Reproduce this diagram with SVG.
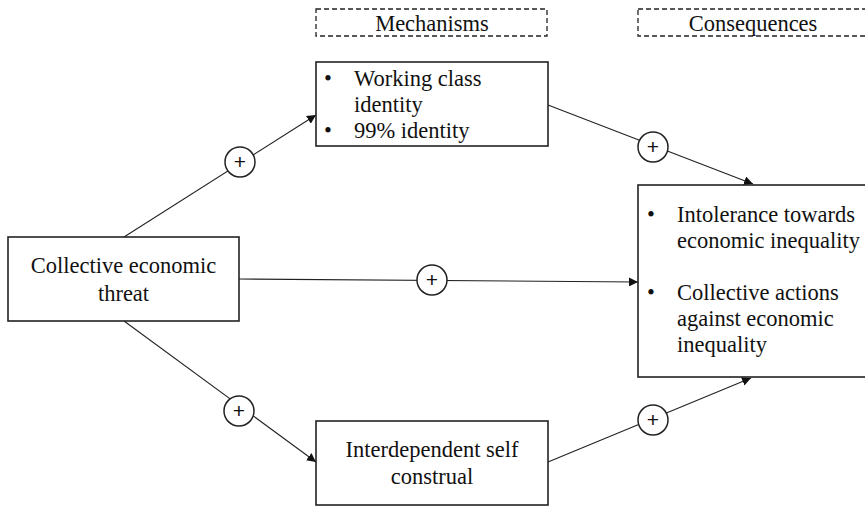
<svg xmlns="http://www.w3.org/2000/svg" width="865" height="506" viewBox="0 0 865 506">
<style>
.box{fill:#fff;stroke:#222;stroke-width:1.6}
.dash{fill:none;stroke:#222;stroke-width:1.3;stroke-dasharray:5 3}
.t{font-family:"Liberation Serif","Times New Roman",serif;font-size:22.5px;fill:#111}
.c{text-anchor:middle}
.ln{stroke:#222;stroke-width:1.1;fill:none}
.sign{fill:#fff;stroke:#222;stroke-width:1.5}
.p{font-family:"Liberation Sans",Arial,sans-serif;font-size:21px;fill:#111;text-anchor:middle}
</style>
<defs>
<marker id="ah" viewBox="0 0 10 10" refX="10" refY="5" markerWidth="9" markerHeight="9" markerUnits="userSpaceOnUse" orient="auto">
<path d="M0,0 L10,5 L0,10 z" fill="#111"/>
</marker>
</defs>
<rect width="865" height="506" fill="#fff"/>
<g id="connectors">
<line class="ln" x1="124" y1="237" x2="316" y2="115" marker-end="url(#ah)"/>
<line class="ln" x1="239" y1="279" x2="638" y2="282" marker-end="url(#ah)"/>
<line class="ln" x1="124" y1="321" x2="316" y2="462" marker-end="url(#ah)"/>
<line class="ln" x1="548" y1="105" x2="753" y2="184" marker-end="url(#ah)"/>
<line class="ln" x1="548" y1="462" x2="751" y2="378" marker-end="url(#ah)"/>
<g id="signs">
<circle class="sign" cx="240" cy="162" r="15"/><text class="p" x="240" y="169">+</text>
<circle class="sign" cx="432" cy="280" r="15"/><text class="p" x="432" y="287">+</text>
<circle class="sign" cx="239" cy="411" r="15"/><text class="p" x="239" y="418">+</text>
<circle class="sign" cx="653" cy="147" r="15"/><text class="p" x="653" y="154">+</text>
<circle class="sign" cx="653" cy="420" r="15"/><text class="p" x="653" y="427">+</text>
</g>
</g>
<g id="header-mechanisms">
<rect class="dash" x="316" y="9" width="231" height="27"/>
<text class="t c" x="432" y="31">Mechanisms</text>
</g>
<g id="header-consequences">
<rect class="dash" x="638" y="9" width="232" height="27"/>
<text class="t c" x="753" y="31">Consequences</text>
</g>
<g id="threat">
<rect class="box" x="8" y="237" width="231" height="84"/>
<text class="t c" x="123.5" y="273">Collective economic</text>
<text class="t c" x="123.5" y="301">threat</text>
</g>
<g id="identity">
<rect class="box" x="316" y="62" width="232" height="84"/>
<text class="t" x="324" y="86">•</text>
<text class="t" x="354" y="86">Working class</text>
<text class="t" x="354" y="112">identity</text>
<text class="t" x="324" y="138">•</text>
<text class="t" x="354" y="138">99% identity</text>
</g>
<g id="construal">
<rect class="box" x="316" y="421" width="232" height="84"/>
<text class="t c" x="432" y="457">Interdependent self</text>
<text class="t c" x="432" y="484">construal</text>
</g>
<g id="consequences">
<rect class="box" x="638" y="185" width="240" height="192"/>
<text class="t" x="647" y="222">•</text>
<text class="t" x="677" y="222">Intolerance towards</text>
<text class="t" x="677" y="248">economic inequality</text>
<text class="t" x="647" y="300">•</text>
<text class="t" x="677" y="300">Collective actions</text>
<text class="t" x="677" y="326">against economic</text>
<text class="t" x="677" y="352">inequality</text>
</g>
</svg>
